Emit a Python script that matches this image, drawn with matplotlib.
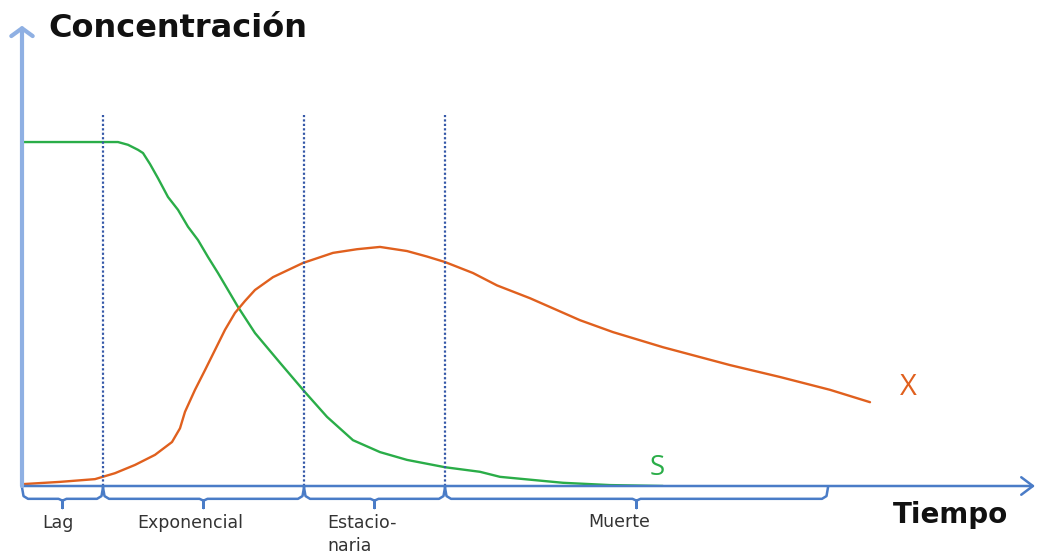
import numpy as np
import matplotlib
matplotlib.use("Agg")
import matplotlib.pyplot as plt

# substrate S (green) and biomass X (orange)
s_t = [0, 8.1, 9.6, 10.6, 11.6, 12.1, 12.8, 13.6, 14.6, 15.6, 16.6, 17.6, 18.6, 19.6, 20.6, 21.6,
       23.3, 25.8, 28.3, 30.5, 33.1, 35.8, 38.5, 42.3, 45.8, 47.8, 54.1, 58.8, 64.1]
s_c = [75.1, 75.1, 75.1, 74.5, 73.4, 72.7, 70.3, 67.2, 63.1, 60.3, 56.6, 53.7, 50.0, 46.5, 42.8, 39.1,
       33.4, 26.9, 20.5, 15.1, 10.0, 7.4, 5.7, 4.1, 3.1, 2.0, 0.7, 0.2, 0.0]

x_t = [0, 3.8, 7.3, 9.3, 11.3, 13.3, 15.0, 15.8, 16.3, 17.3, 18.3, 19.3, 20.3, 21.3, 22.3, 23.3,
       25.1, 28.1, 31.1, 33.5, 35.8, 38.5, 40.5, 42.3, 45.1, 47.5, 50.8, 55.8, 59.1, 64.1, 70.8,
       75.8, 80.8, 84.8]
x_c = [0.4, 0.9, 1.5, 2.8, 4.6, 6.8, 9.6, 12.6, 16.2, 21.0, 25.3, 29.7, 34.1, 37.8, 40.4, 42.8,
       45.6, 48.7, 50.9, 51.7, 52.2, 51.3, 50.1, 48.9, 46.5, 43.8, 41.0, 36.2, 33.6, 30.3, 26.4,
       23.8, 21.0, 18.3]

# growth phases
phase_names = ["Lag", "Exponencial", "Estacio-\nnaria", "Muerte"]
phase_start = [0, 8.1, 28.2, 42.3]
phase_end = [8.1, 28.2, 42.3, 80.6]
dividers = [8.1, 28.2, 42.3]

green = "#2aad48"
orange = "#e0601e"
blue = "#4a7cc7"
dotblue = "#3558a8"

fig = plt.figure(figsize=(10.44, 5.55), dpi=100)
ax = fig.add_axes([22 / 1044, 69 / 555, 1013 / 1044, 458 / 555])
ax.set_xlim(0, 101.3)
ax.set_ylim(0, 100)
ax.axis("off")

ax.plot(s_t, s_c, color=green, lw=1.7, solid_joinstyle="round", solid_capstyle="round")
ax.plot(x_t, x_c, color=orange, lw=1.7, solid_joinstyle="round", solid_capstyle="round")

for d in dividers:
    ax.plot([d, d], [0, 81], color=dotblue, lw=1.6, ls=(0, (1, 1)))

# axes with open arrow heads
ax.annotate("", xy=(101.3, 0), xytext=(0, 0),
            arrowprops=dict(arrowstyle="->,head_length=0.6,head_width=0.45", color=blue, lw=1.8,
                            mutation_scale=14, shrinkA=0, shrinkB=0), annotation_clip=False)
ax.annotate("", xy=(0, 100.5), xytext=(0, 0),
            arrowprops=dict(arrowstyle="->,head_length=0.4,head_width=0.55", color="#8fb0e3", lw=3,
                            mutation_scale=14, shrinkA=0, shrinkB=0), annotation_clip=False)

# braces under the time axis
for name, a, b in zip(phase_names, phase_start, phase_end):
    m = (a + b) / 2
    bx = [a, a + 0.15, a + 0.6, m - 0.4, m, m, m, m + 0.4, b - 0.6, b - 0.15, b]
    by = [-0.3, -2.2, -2.8, -2.8, -3.2, -4.8, -3.2, -2.8, -2.8, -2.2, -0.3]
    ax.plot(bx, by, color=blue, lw=1.8, clip_on=False, solid_joinstyle="round")

lab = dict(fontsize=12.5, color="#333333", family="DejaVu Sans", va="baseline")
ax.text(3.6, -9.2, "Lag", ha="center", **lab)
ax.text(16.8, -9.2, "Exponencial", ha="center", **lab)
ax.text(30.5, -9.2, "Estacio-", ha="left", **lab)
ax.text(30.5, -14.2, "naria", ha="left", **lab)
ax.text(59.7, -9.0, "Muerte", ha="center", **lab)

ax.text(2.6, 98.0, "Concentración", fontsize=23, family="DejaVu Sans", weight="bold",
        color="#111111", va="baseline", ha="left", clip_on=False)
ax.text(87.1, -8.1, "Tiempo", fontsize=20, family="DejaVu Sans", weight="bold",
        color="#111111", va="baseline", ha="left", clip_on=False)

ax.text(88.6, 21.4, "X", fontsize=21, family="Open Sans", color=orange, ha="center", va="center")
ax.text(63.5, 3.9, "S", fontsize=20, family="Open Sans", color=green, ha="center", va="center")

fig.savefig("out.png", dpi=100)
